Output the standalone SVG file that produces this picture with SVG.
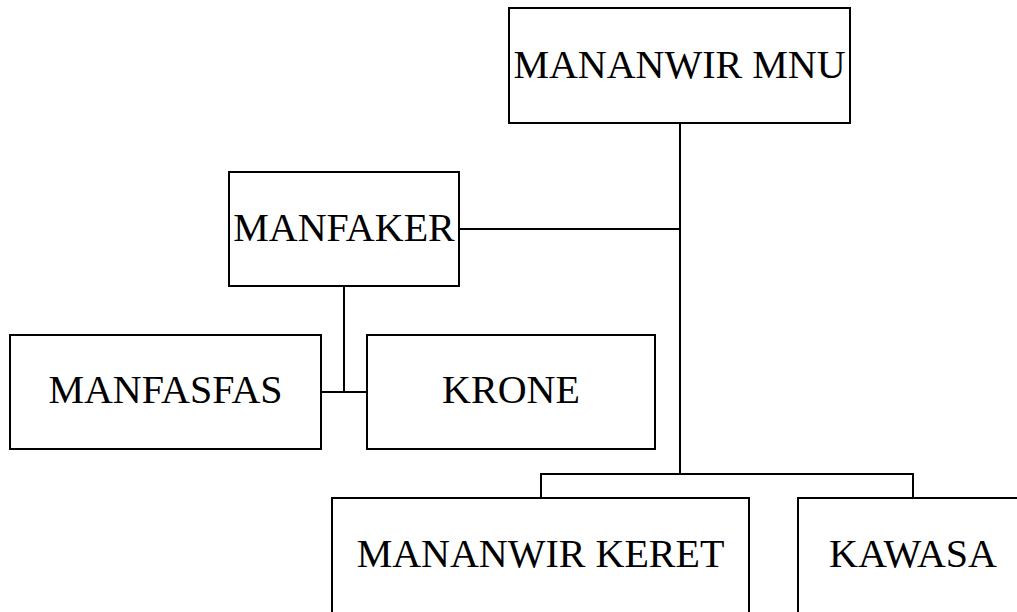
<svg xmlns="http://www.w3.org/2000/svg" width="1017" height="612" viewBox="0 0 1017 612">
<style>
.box{fill:#fff;stroke:#000;stroke-width:2}
.lbl{font-family:'Liberation Serif','Times New Roman',Times,serif;font-size:40px;fill:#000;text-anchor:middle}
.con{fill:none;stroke:#000;stroke-width:2}
</style>
<rect width="1017" height="612" fill="#fff"/>
<g id="connectors">
<path class="con" d="M680 123V474"/>
<path class="con" d="M459 229H680"/>
<path class="con" d="M344 286V392"/>
<path class="con" d="M321 392H367"/>
<path class="con" d="M541 498V474H913V498"/>
</g>
<g id="mananwir-mnu"><rect class="box" x="509" y="8" width="341" height="115"/><text class="lbl" x="679.5" y="78">MANANWIR MNU</text></g>
<g id="manfaker"><rect class="box" x="229" y="172" width="230" height="114"/><text class="lbl" x="344" y="241">MANFAKER</text></g>
<g id="manfasfas"><rect class="box" x="10" y="335" width="311" height="114"/><text class="lbl" x="165.5" y="403">MANFASFAS</text></g>
<g id="krone"><rect class="box" x="367" y="335" width="288" height="114"/><text class="lbl" x="511" y="403">KRONE</text></g>
<g id="mananwir-keret"><rect class="box" x="332" y="498" width="417" height="116"/><text class="lbl" x="540.5" y="567">MANANWIR KERET</text></g>
<g id="kawasa"><rect class="box" x="798" y="498" width="230" height="116"/><text class="lbl" x="913" y="567">KAWASA</text></g>
</svg>
